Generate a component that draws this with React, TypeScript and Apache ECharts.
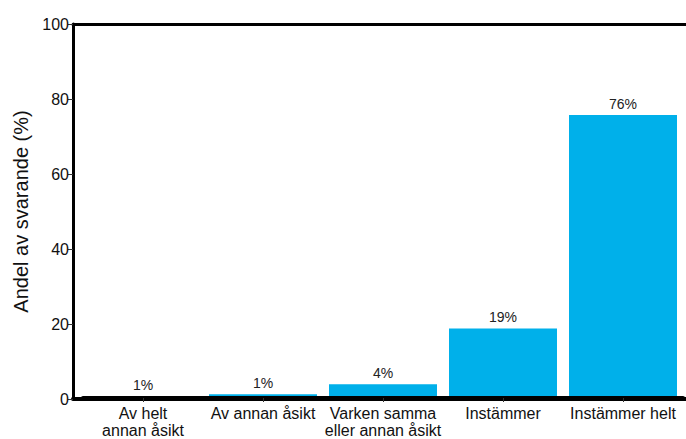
import React, { useEffect, useRef } from "react";
import * as echarts from "echarts";

const categories = [
  "Av helt\nannan åsikt",
  "Av annan åsikt",
  "Varken samma\neller annan åsikt",
  "Instämmer",
  "Instämmer helt",
];
const values = [0.5, 1.0, 3.7, 18.6, 75.7];
const yTicks = { min: 0, max: 100, interval: 20 };
const yName = "Andel av svarande (%)";

const FONT = "'Liberation Sans', Arial, sans-serif";

export default function App() {
  const ref = useRef<HTMLDivElement>(null);
  useEffect(() => {
    if (!ref.current) return;
    const chart = echarts.init(ref.current, null, { renderer: "svg" });
    chart.setOption({
      animation: false,
      textStyle: { fontFamily: FONT },
      grid: [
        { left: 73, right: 0, top: 24, bottom: 40, containLabel: false },
        { left: 83, right: 3, top: 24, bottom: 40, containLabel: false },
      ],
      xAxis: [
        {
          type: "value",
          gridIndex: 0,
          position: "bottom",
          min: 0,
          max: 1,
          z: 10,
          axisLine: { show: true, onZero: false, lineStyle: { color: "#000", width: 4 } },
          axisTick: { show: false },
          axisLabel: { show: false },
          splitLine: { show: false },
        },
        {
          type: "value",
          gridIndex: 0,
          position: "top",
          min: 0,
          max: 1,
          z: 10,
          axisLine: { show: true, onZero: false, lineStyle: { color: "#000", width: 3 } },
          axisTick: { show: false },
          axisLabel: { show: false },
          splitLine: { show: false },
        },
        {
          type: "category",
          gridIndex: 1,
          data: categories,
          z: 10,
          axisLine: { show: true, onZero: false, lineStyle: { color: "#000", width: 4 } },
          axisTick: {
            show: true,
            alignWithLabel: true,
            length: 4,
            lineStyle: { color: "#333", width: 1 },
          },
          axisLabel: {
            interval: 0,
            margin: 7,
            fontSize: 16,
            lineHeight: 17,
            color: "#111",
            fontFamily: FONT,
          },
          splitLine: { show: false },
        },
      ],
      yAxis: [
        {
          type: "value",
          gridIndex: 0,
          min: yTicks.min,
          max: yTicks.max,
          interval: yTicks.interval,
          z: 10,
          name: yName,
          nameLocation: "middle",
          nameGap: 39,
          nameTextStyle: { fontSize: 20, color: "#111", fontFamily: FONT },
          axisLine: { show: true, lineStyle: { color: "#000", width: 3 } },
          axisTick: {
            show: true,
            length: 5,
            lineStyle: { color: "#333", width: 1 },
          },
          axisLabel: { fontSize: 16, margin: 4, color: "#111", fontFamily: FONT },
          splitLine: { show: false },
        },
        {
          type: "value",
          gridIndex: 1,
          min: yTicks.min,
          max: yTicks.max,
          interval: yTicks.interval,
          show: false,
          splitLine: { show: false },
        },
      ],
      series: [
        {
          type: "bar",
          xAxisIndex: 2,
          yAxisIndex: 1,
          data: values,
          barWidth: 108,
          itemStyle: { color: "#00b0ea" },
          label: {
            show: true,
            position: "top",
            distance: 4,
            fontSize: 14,
            color: "#222",
            fontFamily: FONT,
            formatter: (p: any) => Math.round(p.value) + "%",
          },
          z: 1,
        },
      ],
    });
    return () => chart.dispose();
  }, []);
  return <div ref={ref} style={{ width: 686, height: 439, position: "absolute", left: 0, top: 0 }} />;
}
